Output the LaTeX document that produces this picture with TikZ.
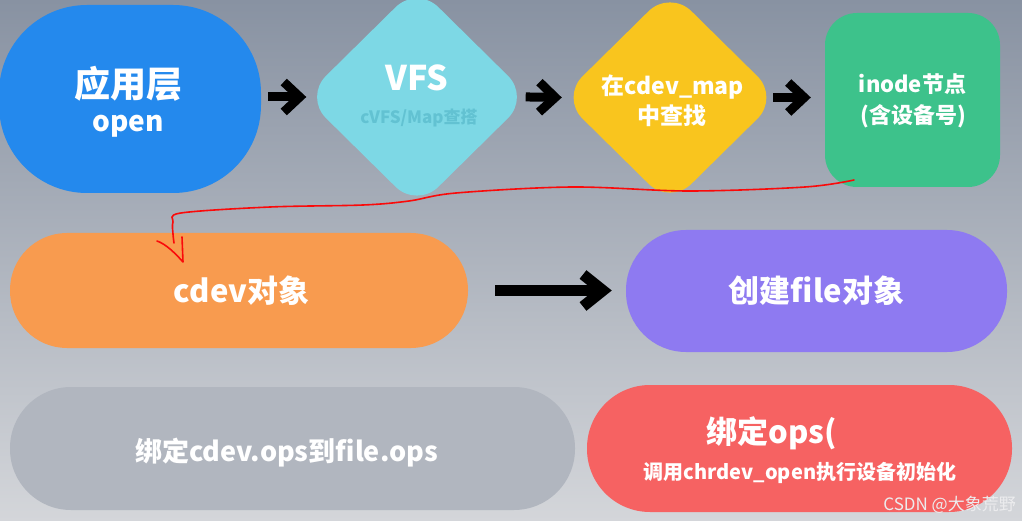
\documentclass[tikz,border=0pt]{standalone}
\usepackage{fontspec}
\setmainfont{Noto Sans CJK SC}
\usetikzlibrary{shapes.geometric,arrows.meta}

\definecolor{bgtop}{RGB}{136,146,162}
\definecolor{bgbot}{RGB}{212,214,218}
\definecolor{cblue}{RGB}{36,137,237}
\definecolor{ccyan}{RGB}{125,216,229}
\definecolor{ccyantext}{RGB}{98,194,210}
\definecolor{cyellow}{RGB}{249,197,30}
\definecolor{cgreen}{RGB}{61,194,139}
\definecolor{corange}{RGB}{248,155,79}
\definecolor{cpurple}{RGB}{142,122,241}
\definecolor{cgray}{RGB}{177,182,191}
\definecolor{cred}{RGB}{246,98,98}
\definecolor{cmark}{RGB}{236,236,238}
\definecolor{cpen}{RGB}{250,10,10}

\newcommand\fsz[1]{\fontsize{#1}{#1}\selectfont}

\begin{document}
\begin{tikzpicture}[x=1pt,y=-1pt,
  shapebox/.style={rectangle, inner sep=0pt, draw=none},
  rhomb/.style={diamond, inner sep=0pt, draw=none, rounded corners=30pt},
  txt/.style={anchor=base, inner sep=0pt, text=white},
  chev/.style={line width=9pt, -{Straight Barb[length=16pt,width=30pt]}},
  bigchev/.style={line width=11pt, -{Straight Barb[length=20pt,width=32pt]}},
  pen/.style={draw=cpen, line width=1.6pt, line cap=round, line join=round}]

\useasboundingbox (0,0) rectangle (1022,521);
\shade[top color=bgtop, bottom color=bgbot] (0,0) rectangle (1022,521);

% first row: open path through VFS to the inode
\node[shapebox, fill=cblue, minimum width=262pt, minimum height=188pt, rounded corners=88pt] (app) at (130,99) {};
\node[rhomb, fill=ccyan, minimum width=225pt, minimum height=222pt] (vfs) at (417,97) {};
\node[rhomb, fill=cyellow, minimum width=218pt, minimum height=215pt] (map) at (670,97.5) {};
\node[shapebox, fill=cgreen, minimum width=175pt, minimum height=174pt, rounded corners=32pt] (inode) at (912.5,100) {};

\node[txt, font=\bfseries\fsz{36}] (app-a) at (128,98) {应用层};
\node[txt, font=\bfseries\fsz{28}] (app-b) at (128,132) {open};
\node[txt, font=\bfseries\fsz{34}] (vfs-a) at (417,91) {VFS};
\node[txt, font=\bfseries\fsz{17}, text=ccyantext] (vfs-b) at (419,124) {cVFS/Map查搭};
\node[txt, font=\bfseries\fsz{23}] (map-a) at (673,95) {在cdev\_map};
\node[txt, font=\bfseries\fsz{23}] (map-b) at (672,125) {中查找};
\node[txt, font=\bfseries\fsz{22}] (inode-a) at (912.5,93) {inode节点};
\node[txt, font=\bfseries\fsz{22}] (inode-b) at (913,124) {(含设备号)};

\draw[chev, shorten <=7pt, shorten >=-2pt] (app.east |- vfs.west) -- (vfs.west);
\draw[chev, shorten <=-4pt, shorten >=-1pt] (vfs.east) -- (map.west);
\draw[chev, shorten <=-6pt, shorten >=14pt] (map.east) -- (inode.west |- map.east);

% second row: the cdev object and the new file
\node[shapebox, fill=corange, minimum width=458pt, minimum height=115pt, rounded corners=57pt] (cdev) at (239,290.5) {};
\node[shapebox, fill=cpurple, minimum width=381pt, minimum height=122pt, rounded corners=60pt] (file) at (816.5,291) {};
\node[txt, font=\bfseries\fsz{31}] (cdev-t) at (241.5,302) {cdev对象};
\node[txt, font=\bfseries\fsz{31}] (file-t) at (816.5,302) {创建file对象};

\draw[bigchev, shorten <=27pt, shorten >=14pt] (cdev.east) -- (file.west |- cdev.east);

% third row: binding the operations
\node[shapebox, fill=cgray, minimum width=565pt, minimum height=123pt, rounded corners=61pt] (bind) at (292.5,448.5) {};
\node[shapebox, fill=cred, minimum width=425pt, minimum height=127pt, rounded corners=63pt] (ops) at (799.5,448.5) {};
\node[txt, font=\bfseries\fsz{27}] (bind-t) at (286.5,461) {绑定cdev.ops到file.ops};
\node[txt, font=\bfseries\fsz{31}] (ops-a) at (772,443) {绑定ops(};
\node[txt, font=\bfseries\fsz{20}] (ops-b) at (800,479) {调用chrdev\_open执行设备初始化};

\node[anchor=base east, inner sep=0pt, text=cmark, font=\fsz{17}] (mark) at (1016,510) {CSDN @大象荒野};

% hand-drawn red pointer from the inode down to the cdev object
\coordinate (penstart) at (854,180);
\coordinate (penend) at (174,243);
\coordinate (pentip) at (183,262);
\draw[pen] plot[smooth, tension=0.55] coordinates {(penstart) (805,187) (689,191) (572,187) (456,193) (409,201) (363,205) (270,207) (181,213) (173,222) (173,234) (penend)};
\draw[pen] (157,241) .. controls (166,244) and (176,254) .. (pentip) -- (182,237);

\end{tikzpicture}
\end{document}
